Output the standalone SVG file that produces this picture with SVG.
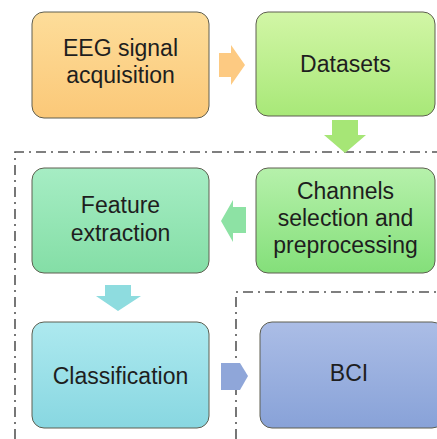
<svg xmlns="http://www.w3.org/2000/svg" width="437" height="439" viewBox="0 0 437 439">
<style>
.box{stroke:#5e5e50;stroke-width:1}
.t{font-family:"Liberation Sans",Arial,sans-serif;font-size:23px;fill:#1e1e1e;text-anchor:middle}
.dd{fill:none;stroke:#555;stroke-width:1.6;stroke-dasharray:10 5 2 5}
</style>
<defs>
<linearGradient id="gO" x1="0" y1="0" x2="0" y2="1"><stop offset="0" stop-color="#fddd9a"/><stop offset="1" stop-color="#fbc878"/></linearGradient>
<linearGradient id="gL" x1="0" y1="0" x2="0" y2="1"><stop offset="0" stop-color="#d2f6a6"/><stop offset="1" stop-color="#a8e878"/></linearGradient>
<linearGradient id="gF" x1="0" y1="0" x2="0" y2="1"><stop offset="0" stop-color="#a6edc4"/><stop offset="1" stop-color="#84dea6"/></linearGradient>
<linearGradient id="gC" x1="0" y1="0" x2="0" y2="1"><stop offset="0" stop-color="#b6f1ab"/><stop offset="1" stop-color="#84df7a"/></linearGradient>
<linearGradient id="gK" x1="0" y1="0" x2="0" y2="1"><stop offset="0" stop-color="#ade9ef"/><stop offset="1" stop-color="#88d7e1"/></linearGradient>
<linearGradient id="gB" x1="0" y1="0" x2="0" y2="1"><stop offset="0" stop-color="#abbde6"/><stop offset="1" stop-color="#88a2d8"/></linearGradient>
</defs>
<g id="frames">
<path class="dd" d="M15,439 V152 H437"/>
<path class="dd" d="M236,439 V292 H437"/>
</g>
<g id="n1"><rect class="box" x="32" y="12" width="177" height="106" rx="12" fill="url(#gO)"/>
<text class="t" x="120.5" y="56">EEG signal</text><text class="t" x="120.5" y="83">acquisition</text></g>
<g id="n2"><rect class="box" x="256" y="12" width="179" height="104" rx="12" fill="url(#gL)"/>
<text class="t" x="345.5" y="72">Datasets</text></g>
<g id="n3"><rect class="box" x="32" y="168" width="177" height="105" rx="12" fill="url(#gF)"/>
<text class="t" x="120.5" y="213">Feature</text><text class="t" x="120.5" y="241">extraction</text></g>
<g id="n4"><rect class="box" x="256" y="168" width="179" height="105" rx="12" fill="url(#gC)"/>
<text class="t" x="345.5" y="199">Channels</text><text class="t" x="345.5" y="226">selection and</text><text class="t" x="345.5" y="253">preprocessing</text></g>
<g id="n5"><rect class="box" x="32" y="322" width="177" height="106" rx="12" fill="url(#gK)"/>
<text class="t" x="120.5" y="384">Classification</text></g>
<g id="n6"><rect class="box" x="260" y="322" width="184" height="106" rx="12" fill="url(#gB)"/>
<text class="t" x="349" y="381">BCI</text></g>
<g id="connectors">
<polygon points="219,53 231,53 231,45 245,65 231,85 231,77 219,77" fill="#fdca82"/>
<polygon points="332,120 358,120 358,135 366,135 345,153 324,135 332,135" fill="#a6e676"/>
<polygon points="246,207 233,207 233,200 221,221 233,242 233,233 246,233" fill="#8de2a4"/>
<polygon points="105,285 131,285 131,296 141,296 118,311 96,296 105,296" fill="#8edcdf"/>
<polygon points="221,363 240,363 248,376 240,390 221,390" fill="#8fa6d9"/>
</g>
</svg>
